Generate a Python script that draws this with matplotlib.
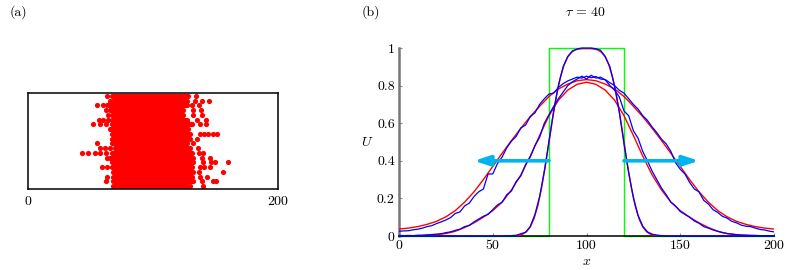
import numpy as np
import matplotlib
matplotlib.use('Agg')
import matplotlib.pyplot as plt

plt.rcParams['font.family'] = 'serif'
plt.rcParams['font.serif'] = ['cmr10']
plt.rcParams['mathtext.fontset'] = 'cm'
plt.rcParams['axes.unicode_minus'] = False

# ---- panel (a): particle positions, one row per particle line ----
row_y = [20, 19, 18, 17, 16, 15, 14, 13, 12, 11, 10, 9, 8, 7, 6, 5, 4, 3, 2, 1]
core_left = [66.9, 68.3, 62.9, 65.6, 66.9, 66.9, 66.9, 65.6, 66.9, 66.9,
             66.9, 69.6, 66.9, 65.6, 66.9, 66.9, 68.3, 68.3, 68.3, 68.3]
core_right = [128.3, 126.9, 126.9, 124.3, 124.3, 126.9, 130.9, 128.3, 129.6, 129.6,
              126.9, 129.6, 130.9, 132.3, 132.3, 130.9, 132.3, 130.9, 132.3, 126.9]
outliers = [
    [62.9, 134.4],
    [65.6, 133.6, 138.9, 145.1],
    [55.5, 59.7, 130.9, 137.1],
    [62.4, 132.3, 138.1],
    [64.3, 131.7, 138.9],
    [56.8, 60.3, 64.3, 134.9, 142.1],
    [51.7, 57.6, 62.4, 137.6, 142.4],
    [],
    [137.6, 140.8, 144.3, 148.3, 151.5],
    [134.9],
    [54.9, 132.3],
    [57.6, 61.6, 65.6, 136.3],
    [43.5, 47.7, 53.6, 57.6, 62.4, 137.1, 140.3],
    [62.9, 138.9, 145.6],
    [140.3, 146.1, 149.6, 160.3],
    [58.9, 62.9, 137.6, 140.8, 145.6],
    [137.1, 155.7],
    [62.9, 137.6, 142.9],
    [62.4, 138.9, 148.3, 150.4],
    [129.6, 139.7],
]

# ---- panel (b): profiles at tau = 40 ----
x_fit = np.arange(0, 201, 5)
u_fit_wide = [0.037, 0.042, 0.050, 0.062, 0.078, 0.102, 0.135, 0.180, 0.235, 0.300,
              0.370, 0.440, 0.508, 0.573, 0.635, 0.690, 0.742, 0.782, 0.808, 0.826,
              0.832,
              0.826, 0.808, 0.782, 0.742, 0.690, 0.635, 0.573, 0.508, 0.440, 0.370,
              0.300, 0.235, 0.180, 0.135, 0.102, 0.078, 0.062, 0.050, 0.042, 0.037]
u_fit_mid = [0.001, 0.001, 0.002, 0.004, 0.007, 0.013, 0.025, 0.045, 0.070, 0.100,
             0.135, 0.180, 0.245, 0.325, 0.425, 0.535, 0.640, 0.722, 0.776, 0.807,
             0.818,
             0.807, 0.776, 0.722, 0.640, 0.535, 0.425, 0.325, 0.245, 0.180, 0.135,
             0.100, 0.070, 0.045, 0.025, 0.013, 0.007, 0.004, 0.002, 0.001, 0.001]

x_fit_narrow = np.r_[0, np.arange(56, 145, 2), 200]
u_fit_narrow = [0.0,
                0.0, 0.0, 0.0, 0.001, 0.004, 0.010, 0.023, 0.048, 0.092, 0.159,
                0.253, 0.370, 0.500, 0.630, 0.747, 0.841, 0.908, 0.952, 0.977, 0.990,
                0.995, 0.997, 0.997, 0.997, 0.995, 0.990, 0.977, 0.952, 0.908, 0.841,
                0.747, 0.630, 0.500, 0.370, 0.253, 0.159, 0.092, 0.048, 0.023, 0.010,
                0.004, 0.001, 0.0, 0.0, 0.0,
                0.0]

x_sim = np.arange(0, 200.1, 2.5)
u_sim_wide = [0.025, 0.027, 0.028, 0.033,
              0.036, 0.042, 0.050, 0.055,
              0.066, 0.075, 0.085, 0.098,
              0.120, 0.128, 0.160, 0.175,
              0.210, 0.235, 0.250, 0.330,
              0.330, 0.385, 0.420, 0.470,
              0.505, 0.530, 0.575, 0.590,
              0.635, 0.655, 0.700, 0.730,
              0.755, 0.760, 0.790, 0.810,
              0.825, 0.835, 0.845, 0.840,
              0.850, 0.842, 0.848, 0.835,
              0.832, 0.815, 0.800, 0.775,
              0.760, 0.730, 0.700, 0.675,
              0.640, 0.615, 0.580, 0.550,
              0.515, 0.490, 0.450, 0.390,
              0.355, 0.330, 0.285, 0.250,
              0.235, 0.190, 0.170, 0.140,
              0.125, 0.105, 0.095, 0.078,
              0.070, 0.058, 0.052, 0.050,
              0.042, 0.035, 0.032, 0.026,
              0.022]
u_sim_mid = [0.003, 0.002, 0.003, 0.002,
             0.004, 0.004, 0.006, 0.008,
             0.010, 0.012, 0.018, 0.022,
             0.030, 0.036, 0.050, 0.056,
             0.075, 0.090, 0.105, 0.115,
             0.140, 0.165, 0.180, 0.220,
             0.240, 0.290, 0.320, 0.380,
             0.420, 0.480, 0.525, 0.600,
             0.645, 0.690, 0.730, 0.765,
             0.800, 0.820, 0.835, 0.850,
             0.835, 0.855, 0.840, 0.845,
             0.830, 0.800, 0.775, 0.740,
             0.665, 0.640, 0.560, 0.520,
             0.450, 0.400, 0.345, 0.300,
             0.255, 0.220, 0.180, 0.160,
             0.130, 0.115, 0.100, 0.080,
             0.068, 0.050, 0.042, 0.032,
             0.025, 0.018, 0.013, 0.010,
             0.007, 0.005, 0.004, 0.003,
             0.003, 0.002, 0.002, 0.002,
             0.002]
u_sim_narrow = [0.0, 0.0, 0.0, 0.0,
                0.0, 0.0, 0.0, 0.0,
                0.0, 0.0, 0.0, 0.0,
                0.0, 0.0, 0.0, 0.0,
                0.0, 0.0, 0.0, 0.0,
                0.0, 0.0, 0.0, 0.001,
                0.002, 0.004, 0.012, 0.020,
                0.050, 0.115, 0.210, 0.345,
                0.505, 0.665, 0.800, 0.900,
                0.955, 0.985, 0.995, 1.000,
                1.000, 1.000, 0.996, 0.988,
                0.955, 0.900, 0.795, 0.660,
                0.490, 0.335, 0.205, 0.110,
                0.052, 0.022, 0.010, 0.005,
                0.002, 0.001, 0.0, 0.0,
                0.0, 0.0, 0.0, 0.0,
                0.0, 0.0, 0.0, 0.0,
                0.0, 0.0, 0.0, 0.0,
                0.0, 0.0, 0.0, 0.0,
                0.0, 0.0, 0.0, 0.0,
                0.0]

# initial box and spreading arrows
box_x = [0, 80, 80, 120, 120, 200]
box_u = [0, 0, 1, 1, 0, 0]
arrow_tail = [80, 120]
arrow_head = [40, 160]
arrow_u = 0.4

x_ticks = [0, 50, 100, 150, 200]
u_ticks = [0, 0.2, 0.4, 0.6, 0.8, 1]
u_tick_labels = ['0', '0.2', '0.4', '0.6', '0.8', '1']

RED = '#ff0000'
BLUE = '#0000ff'
GREEN = '#00ff00'
CYAN = '#00b4f0'

fig = plt.figure(figsize=(7.89, 2.70), dpi=100)

# panel (a)
axa = fig.add_axes([28 / 789, 81 / 270, 250 / 789, 96 / 270])
for y, l, r, xs in zip(row_y, core_left, core_right, outliers):
    axa.plot([l, r], [y, y], color=RED, lw=3.8, solid_capstyle='round')
    if xs:
        axa.scatter(xs, [y] * len(xs), s=14, color=RED, linewidths=0)
axa.set_xlim(0, 200)
axa.set_ylim(0.37, 20.63)
axa.set_xticks([0, 200])
axa.set_xticklabels(['0', '200'])
axa.set_yticks([])
axa.tick_params(axis='x', length=0, pad=5, labelsize=10)
for s in axa.spines.values():
    s.set_linewidth(1.1)

# panel (b)
axb = fig.add_axes([399 / 789, 34 / 270, 375 / 789, 188 / 270])
axb.plot(box_x, box_u, color=GREEN, lw=1.0, clip_on=False, zorder=2)
axb.plot(x_fit, u_fit_wide, color=RED, lw=1.0, zorder=3)
axb.plot(x_fit, u_fit_mid, color=RED, lw=1.0, zorder=3)
axb.plot(x_fit_narrow, u_fit_narrow, color=RED, lw=1.0, zorder=3)
axb.plot(x_sim, u_sim_wide, color=BLUE, lw=0.9, zorder=4)
axb.plot(x_sim, u_sim_mid, color=BLUE, lw=0.9, zorder=4)
axb.plot(x_sim, u_sim_narrow, color=BLUE, lw=0.9, zorder=4, clip_on=False)
for xt, xh in zip(arrow_tail, arrow_head):
    axb.annotate('', xy=(xh, arrow_u), xytext=(xt, arrow_u),
                 arrowprops=dict(arrowstyle='-|>,head_length=0.52,head_width=0.17',
                                 color=CYAN, lw=2.6, mutation_scale=18,
                                 shrinkA=0, shrinkB=0),
                 zorder=5)

axb.set_xlim(0, 200)
axb.set_ylim(0, 1)
axb.set_xticks(x_ticks)
axb.set_yticks(u_ticks)
axb.set_yticklabels(u_tick_labels)
axb.spines['top'].set_visible(False)
axb.spines['right'].set_visible(False)
axb.spines['left'].set_color('#777777')
axb.spines['left'].set_linewidth(1.8)
axb.spines['bottom'].set_color('black')
axb.spines['bottom'].set_linewidth(1.1)
axb.tick_params(direction='in', length=2.5, width=0.8, color='#888888',
                labelsize=10, pad=3)

fig.text(18 / 789, 1 - 12 / 270, '(a)', ha='center', va='center', fontsize=10)
fig.text(371 / 789, 1 - 12 / 270, '(b)', ha='center', va='center', fontsize=10)
fig.text(586 / 789, 1 - 12 / 270, r'$\tau\,=\,40$', ha='center', va='center', fontsize=10)
fig.text(367 / 789, 1 - 142 / 270, r'$U$', ha='center', va='center', fontsize=10)
fig.text(587 / 789, 1 - 262 / 270, r'$x$', ha='center', va='center', fontsize=10)

fig.savefig('out.png', dpi=100)
